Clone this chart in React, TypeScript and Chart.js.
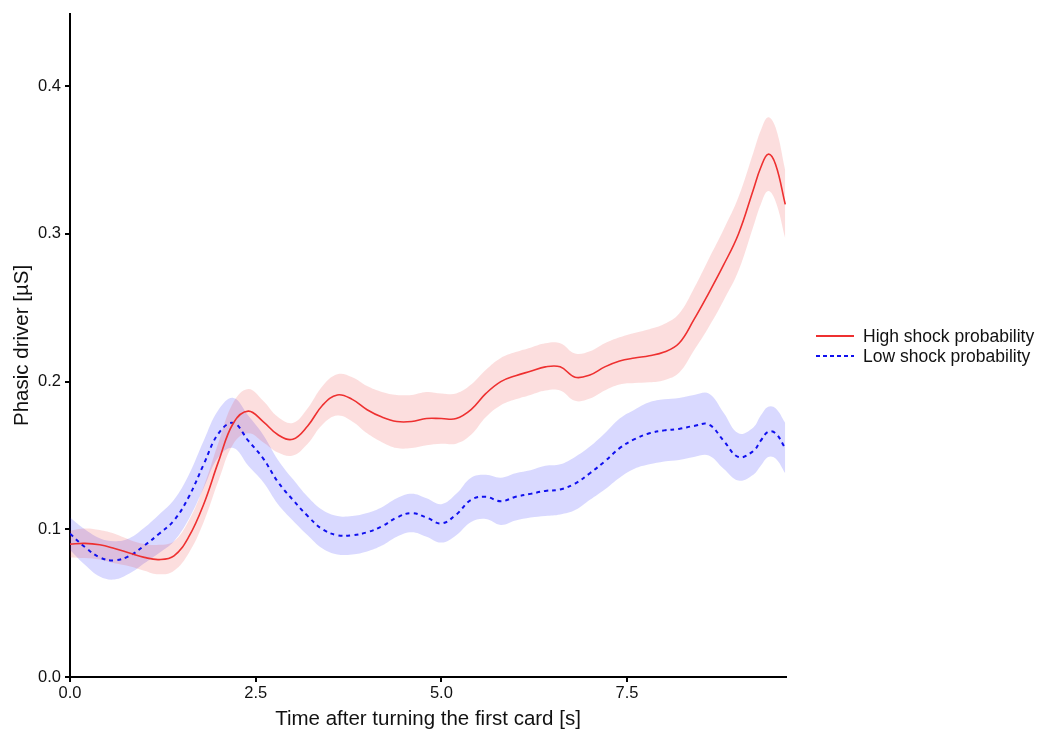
import React, { useEffect, useRef } from "react";
import { Chart, registerables } from "chart.js";

Chart.register(...registerables);

// Time after turning the first card (s)
const timePoints = [
  0, 0.2, 0.4, 0.6, 0.8, 1.0, 1.2, 1.4, 1.6, 1.8, 2.0, 2.2, 2.4, 2.6, 2.8, 3.0,
  3.2, 3.4, 3.6, 3.8, 4.0, 4.2, 4.4, 4.6, 4.8, 5.0, 5.2, 5.4, 5.6, 5.8, 6.0,
  6.2, 6.4, 6.6, 6.8, 7.0, 7.2, 7.4, 7.6, 7.8, 8.0, 8.2, 8.4, 8.6, 8.8, 9.0,
  9.2, 9.3, 9.4, 9.5, 9.63,
];

// Mean phasic driver, high shock probability
const highMean = [
  0.09, 0.0905, 0.0895, 0.087, 0.084, 0.081, 0.0795, 0.082, 0.095, 0.117,
  0.146, 0.172, 0.18, 0.173, 0.164, 0.161, 0.17, 0.184, 0.191, 0.188, 0.181,
  0.176, 0.173, 0.173, 0.175, 0.175, 0.175, 0.181, 0.192, 0.2, 0.204, 0.207,
  0.21, 0.21, 0.203, 0.2045, 0.21, 0.214, 0.216, 0.2175, 0.22, 0.226, 0.242,
  0.26, 0.279, 0.3, 0.33, 0.345, 0.354, 0.347, 0.32,
];

// Half-width of the high-probability ribbon
const highSpread = [
  0.009, 0.01, 0.01, 0.01, 0.009, 0.009, 0.01, 0.01, 0.011, 0.012, 0.013,
  0.014, 0.015, 0.014, 0.012, 0.011, 0.012, 0.013, 0.014, 0.015, 0.016, 0.017,
  0.018, 0.018, 0.018, 0.017, 0.017, 0.017, 0.016, 0.016, 0.016, 0.016, 0.016,
  0.016, 0.016, 0.016, 0.016, 0.016, 0.017, 0.018, 0.019, 0.02, 0.021, 0.023,
  0.024, 0.025, 0.025, 0.025, 0.025, 0.025, 0.023,
];

// Mean phasic driver, low shock probability
const lowMean = [
  0.097, 0.088, 0.081, 0.079, 0.082, 0.089, 0.097, 0.106, 0.122, 0.144, 0.165,
  0.172, 0.16, 0.148, 0.132, 0.12, 0.109, 0.1, 0.096, 0.096, 0.098, 0.102,
  0.108, 0.111, 0.108, 0.104, 0.11, 0.12, 0.122, 0.119, 0.122, 0.124, 0.126,
  0.127, 0.131, 0.138, 0.146, 0.155, 0.161, 0.165, 0.167, 0.168, 0.17, 0.171,
  0.16, 0.149, 0.153, 0.16, 0.166, 0.165, 0.155,
];

// Half-width of the low-probability ribbon
const lowSpread = [
  0.011, 0.012, 0.013, 0.013, 0.012, 0.012, 0.013, 0.014, 0.015, 0.016, 0.016,
  0.017, 0.017, 0.016, 0.015, 0.014, 0.013, 0.013, 0.013, 0.013, 0.013, 0.013,
  0.013, 0.013, 0.013, 0.013, 0.014, 0.015, 0.015, 0.016, 0.016, 0.016, 0.017,
  0.017, 0.018, 0.018, 0.019, 0.02, 0.02, 0.021, 0.021, 0.021, 0.021, 0.021,
  0.019, 0.016, 0.016, 0.017, 0.017, 0.017, 0.017,
];

const xTickValues = [0, 2.5, 5, 7.5];
const yTickValues = [0, 0.1, 0.2, 0.3, 0.4];
const seriesNames = ["High shock probability", "Low shock probability"];

const FONT = "'Liberation Sans', Arial, sans-serif";
const RED = "#EE3030";
const BLUE = "#1010EE";
const RED_FILL = "rgba(235, 60, 60, 0.17)";
const BLUE_FILL = "rgba(20, 20, 255, 0.16)";

const pts = (ys: number[]) => timePoints.map((x, i) => ({ x, y: ys[i] }));
const band = (m: number[], s: number[], sign: number) =>
  timePoints.map((x, i) => ({ x, y: m[i] + sign * s[i] }));

const legendPlugin = {
  id: "sideLegend",
  afterDraw(chart: any) {
    const ctx = chart.ctx;
    ctx.save();
    const rows = [
      { name: seriesNames[0], color: RED, dash: [] as number[], width: 1.8, y: 336 },
      { name: seriesNames[1], color: BLUE, dash: [4, 3], width: 2, y: 356 },
    ];
    for (const r of rows) {
      ctx.beginPath();
      ctx.strokeStyle = r.color;
      ctx.lineWidth = r.width;
      ctx.setLineDash(r.dash);
      ctx.moveTo(816, r.y);
      ctx.lineTo(854, r.y);
      ctx.stroke();
      ctx.setLineDash([]);
      ctx.fillStyle = "#111";
      ctx.font = `17.5px ${FONT}`;
      ctx.textAlign = "left";
      ctx.textBaseline = "middle";
      ctx.fillText(r.name, 863, r.y + 1);
    }
    ctx.restore();
  },
};

export default function App() {
  const canvasRef = useRef<HTMLCanvasElement | null>(null);

  useEffect(() => {
    document.body.style.margin = "0";
    const canvas = canvasRef.current;
    if (!canvas) return;
    const chart = new Chart(canvas, {
      type: "line",
      data: {
        datasets: [
          {
            label: "high-upper",
            data: band(highMean, highSpread, 1),
            borderWidth: 0,
            pointRadius: 0,
            backgroundColor: RED_FILL,
            fill: "+1",
            tension: 0.4,
            order: 3,
          },
          {
            label: "high-lower",
            data: band(highMean, highSpread, -1),
            borderWidth: 0,
            pointRadius: 0,
            fill: false,
            tension: 0.4,
            order: 3,
          },
          {
            label: "low-upper",
            data: band(lowMean, lowSpread, 1),
            borderWidth: 0,
            pointRadius: 0,
            backgroundColor: BLUE_FILL,
            fill: "+1",
            tension: 0.4,
            order: 3,
          },
          {
            label: "low-lower",
            data: band(lowMean, lowSpread, -1),
            borderWidth: 0,
            pointRadius: 0,
            fill: false,
            tension: 0.4,
            order: 3,
          },
          {
            label: seriesNames[1],
            data: pts(lowMean),
            borderColor: BLUE,
            borderWidth: 2,
            borderDash: [4, 4],
            pointRadius: 0,
            fill: false,
            tension: 0.4,
            order: 2,
          },
          {
            label: seriesNames[0],
            data: pts(highMean),
            borderColor: RED,
            borderWidth: 1.6,
            pointRadius: 0,
            fill: false,
            tension: 0.4,
            order: 1,
          },
        ],
      },
      options: {
        animation: false,
        responsive: false,
        maintainAspectRatio: false,
        layout: { padding: { top: 10, right: 256, bottom: 0, left: 0 } },
        plugins: {
          legend: { display: false },
          tooltip: { enabled: false },
        },
        scales: {
          x: {
            type: "linear",
            min: 0,
            max: 9.64,
            afterFit: (s: any) => {
              s.height = 59;
            },
            afterBuildTicks: (s: any) => {
              s.ticks = xTickValues.map((v) => ({ value: v }));
            },
            ticks: {
              color: "#111",
              font: { family: FONT, size: 16.5 },
              padding: 2,
              maxRotation: 0,
              callback: (v: any) => Number(v).toFixed(1),
            },
            grid: {
              drawOnChartArea: false,
              drawTicks: true,
              tickLength: 5,
              color: "#000",
              lineWidth: 2,
            },
            border: { display: true, color: "#000", width: 2 },
            title: {
              display: true,
              text: "Time after turning the first card [s]",
              color: "#111",
              font: { family: FONT, size: 20.5 },
              padding: { top: 0, bottom: 4 },
            },
          },
          y: {
            type: "linear",
            min: 0,
            max: 0.449,
            afterFit: (s: any) => {
              s.width = 70;
            },
            afterBuildTicks: (s: any) => {
              s.ticks = yTickValues.map((v) => ({ value: v }));
            },
            ticks: {
              color: "#111",
              font: { family: FONT, size: 16.5 },
              padding: 4,
              callback: (v: any) => Number(v).toFixed(1),
            },
            grid: {
              drawOnChartArea: false,
              drawTicks: true,
              tickLength: 5,
              color: "#000",
              lineWidth: 2,
            },
            border: { display: true, color: "#000", width: 2 },
            title: {
              display: true,
              text: "Phasic driver [µS]",
              color: "#111",
              font: { family: FONT, size: 20.5 },
              padding: { top: 10, bottom: 0 },
            },
          },
        },
      },
      plugins: [legendPlugin],
    });
    return () => chart.destroy();
  }, []);

  return (
    <div style={{ position: "absolute", left: 0, top: 0, width: 1042, height: 736 }}>
      <canvas ref={canvasRef} width={1042} height={736} style={{ width: 1042, height: 736 }} />
    </div>
  );
}
